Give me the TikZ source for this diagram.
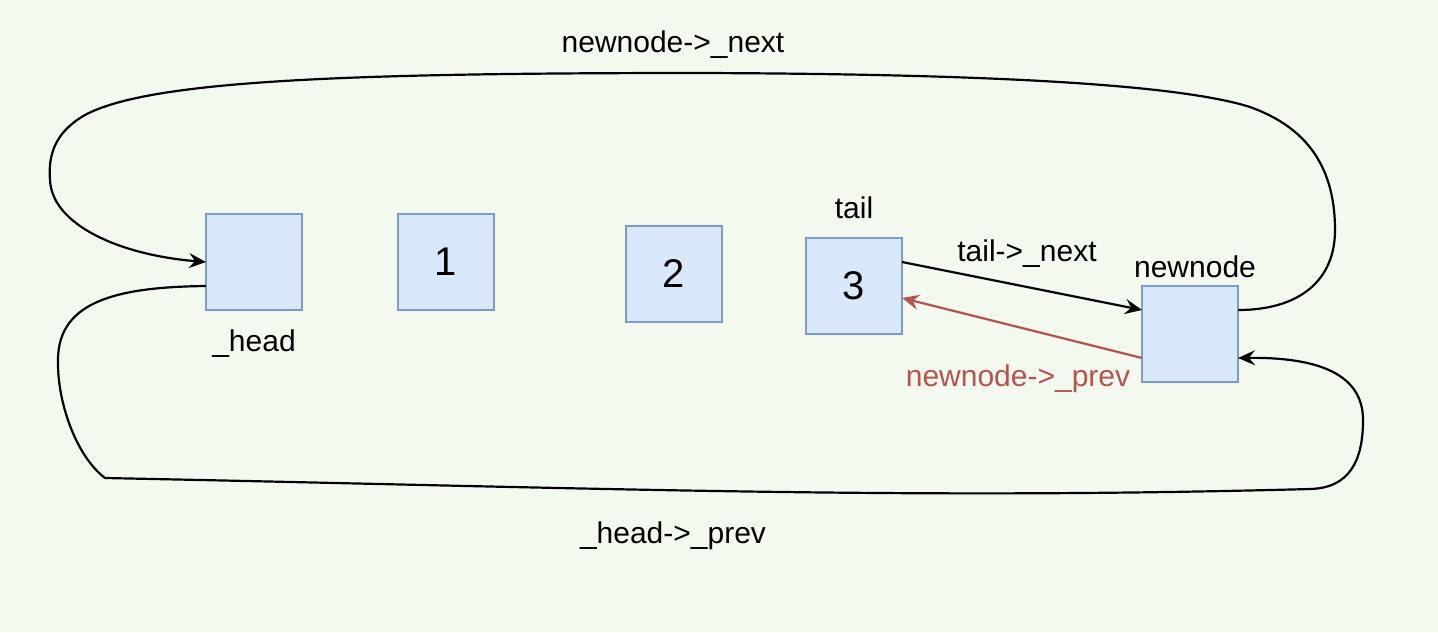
\documentclass[tikz,border=0pt]{standalone}
\usepackage{fontspec}
\setmainfont{Liberation Sans}
\usetikzlibrary{positioning,arrows.meta}
\definecolor{bgcol}{HTML}{F4F9EF}
\definecolor{boxfill}{HTML}{DAE8FC}
\definecolor{boxline}{HTML}{7E9CCB}
\definecolor{prevred}{HTML}{B85450}

\begin{document}
\begin{tikzpicture}[x=0.5pt, y=-0.5pt,
		every node/.style={font=\fontsize{15}{18}\selectfont,
			inner sep=0pt, outer sep=0pt,
		},
		elem/.style={draw=boxline, fill=boxfill, line width=0.7pt,
			minimum size=48pt, font=\fontsize{20}{24}\selectfont},
		link/.style={line width=1.1pt, -{Stealth[length=8.5pt,width=7.5pt,inset=3pt]}},
		]

		\path[use as bounding box, fill=bgcol] (0,0) rectangle (1438,632);

		\node (head) [elem] at (254,262) {};
		\node (n1) [elem, right=48pt of head] {1};
		\node (n2) [elem, right=66pt of n1, yshift=-6pt] {2};
		\node (n3) [elem, right=42pt of n2, yshift=-6pt] {3};
		\node (newnode) [elem, right=120pt of n3, yshift=-24pt] {};

		\node (headlbl) [below=10pt of head] {\_head};
		\node (taillbl) [above=9.5pt of n3] {tail};
		\node (newlbl) [above=4pt of newnode, xshift=2.5pt] {newnode};
		\node (nextlbl) [anchor=base] at (1027,261) {tail->\_next};
		\node (prevlbl) [anchor=base, text=prevred] at (1018,386) {newnode->\_prev};
		\node (toplbl) [anchor=base] at (673,52) {newnode->\_next};
		\node (botlbl) [anchor=base] at (673,543) {\_head->\_prev};

		\draw[link] ([yshift=12pt]n3.east) -- ([yshift=12pt]newnode.west);
		\draw[link, prevred] ([yshift=-12pt]newnode.west) -- ([yshift=-6pt]n3.east);

		% newnode->_next goes round the top back to _head
		\draw[link] ([yshift=12pt]newnode.east) .. controls (1300,310) and (1335,280) .. (1335,230)
			.. controls (1335,160) and (1300,125) .. (1250,107)
			.. controls (1180,85) and (1000,74) .. (700,73)
			.. controls (350,73) and (150,80) .. (85,115)
			.. controls (55,132) and (48,155) .. (50,180)
			.. controls (52,225) and (120,255) .. (head.west);

		% _head->_prev goes round the bottom to newnode
		\draw[link] ([yshift=-12pt]head.west) .. controls (120,287) and (58,300) .. (58,360)
			.. controls (57,400) and (75,455) .. (105,478)
			.. controls (600,488) and (900,500) .. (1310,489)
			.. controls (1350,488) and (1363,460) .. (1363,420)
			.. controls (1363,375) and (1320,357) .. ([yshift=-12pt]newnode.east);

	\end{tikzpicture}
\end{document}
